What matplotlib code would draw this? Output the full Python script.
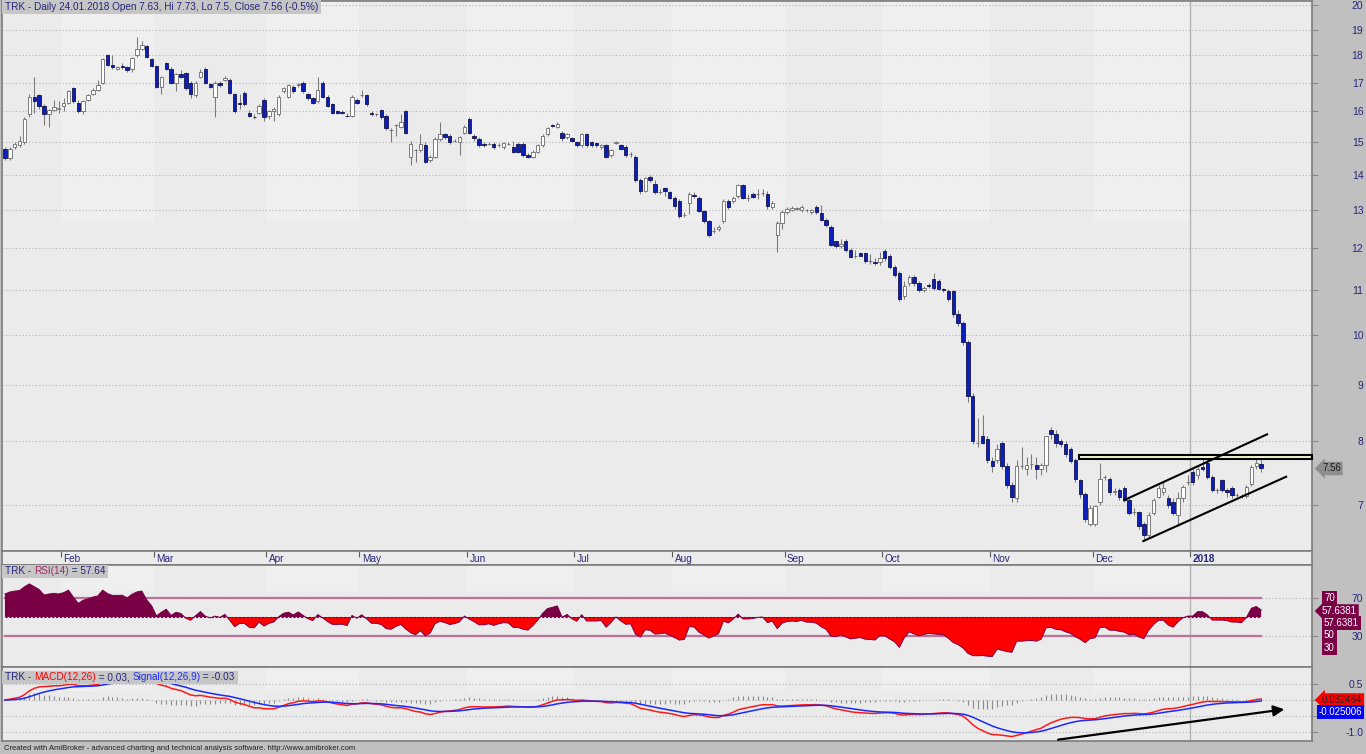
import matplotlib
matplotlib.use('Agg')
import matplotlib.pyplot as plt
from matplotlib.patches import Rectangle
import pandas as pd

# daily bars 13.01.2017 .. 24.01.2018
opens = [
    14.8, 14.5, 14.85, 14.9, 15.0, 15.9, 16.5, 16.55, 16.2, 15.9,
    16.05, 16.1, 16.2, 16.3, 16.8, 16.3, 16.0, 16.4, 16.6, 16.75,
    17.0, 18.0, 17.65, 17.5, 17.62, 17.55, 17.5, 18.0, 18.25, 18.35,
    17.85, 17.6, 16.85, 17.7, 17.5, 17.0, 17.3, 17.35, 17.0, 16.55,
    17.2, 17.5, 16.95, 16.5, 17.0, 17.1, 17.1, 16.6, 16.3, 16.65,
    15.95, 15.82, 15.95, 16.4, 15.85, 16.0, 15.9, 16.7, 16.5, 16.85,
    16.9, 17.0, 16.6, 16.45, 16.35, 17.0, 16.5, 16.25, 16.0, 15.97,
    15.86, 15.85, 16.4, 16.55, 16.55, 15.95, 15.9, 16.05, 15.85, 15.4,
    15.55, 15.5, 16.0, 14.55, 14.75, 14.75, 14.9, 14.45, 14.55, 15.1,
    15.25, 15.2, 15.05, 15.0, 15.3, 15.75, 15.2, 15.1, 14.95, 14.95,
    14.95, 14.92, 14.85, 14.95, 14.85, 14.95, 14.95, 14.6, 14.55, 14.7,
    14.9, 15.25, 15.55, 15.5, 15.3, 15.18, 15.12, 15.0, 14.9, 15.25,
    15.0, 14.98, 14.85, 14.9, 14.6, 14.98, 14.92, 14.85, 14.62, 14.55,
    13.85, 13.55, 13.95, 13.75, 13.52, 13.62, 13.52, 13.35, 13.25, 12.88,
    13.2, 13.42, 13.35, 12.97, 12.7, 12.45, 12.5, 12.7, 13.25, 13.25,
    13.4, 13.7, 13.35, 13.45, 13.45, 13.47, 13.45, 13.1, 12.35, 12.65,
    12.95, 13.0, 13.05, 13.0, 13.0, 12.95, 13.1, 12.92, 12.75, 12.55,
    12.18, 12.05, 12.2, 11.95, 11.8, 11.88, 11.88, 11.68, 11.67, 11.67,
    11.93, 11.8, 11.55, 11.4, 10.85, 11.15, 11.3, 11.15, 11.0, 11.12,
    11.25, 11.2, 11.02, 10.98, 10.98, 10.45, 10.25, 9.85, 8.8, 7.97,
    8.1, 8.05, 7.68, 7.7, 7.98, 7.6, 7.3, 7.1, 7.6, 7.55,
    7.63, 7.62, 7.55, 7.62, 8.2, 8.12, 8.0, 7.95, 7.88, 7.7,
    7.38, 7.17, 6.72, 6.72, 7.05, 7.42, 7.4, 7.2, 7.22, 7.25,
    7.07, 6.9, 6.9, 6.72, 6.57, 6.88, 7.12, 7.2, 7.1, 7.05,
    6.85, 7.1, 7.35, 7.5, 7.45, 7.58, 7.65, 7.43, 7.22, 7.38,
    7.22, 7.25, 7.15, 7.13, 7.13, 7.32, 7.6, 7.63,
]
highs = [
    14.85, 14.85, 15.0, 15.2, 15.8, 16.6, 17.2, 16.6, 16.25, 16.1,
    16.4, 16.35, 16.45, 16.75, 16.85, 16.4, 16.4, 16.6, 16.8, 17.1,
    17.9, 18.05, 18.0, 17.6, 17.7, 17.6, 17.95, 18.7, 18.55, 18.4,
    17.9, 17.65, 17.25, 17.75, 17.55, 17.35, 17.45, 17.4, 17.05, 17.05,
    17.5, 17.55, 17.0, 17.05, 17.05, 17.25, 17.15, 16.65, 16.6, 16.7,
    16.05, 15.9, 16.25, 16.45, 16.05, 16.15, 16.55, 16.85, 16.95, 16.9,
    17.0, 17.05, 16.65, 16.5, 17.2, 17.05, 16.55, 16.3, 16.05, 16.05,
    15.95, 16.55, 16.45, 16.75, 16.6, 16.0, 15.95, 16.1, 15.9, 15.45,
    15.6, 15.9, 16.05, 15.05, 14.8, 15.25, 15.0, 14.6, 15.15, 15.65,
    15.3, 15.25, 15.1, 15.2, 15.55, 15.8, 15.25, 15.15, 15.0, 15.0,
    15.0, 14.97, 15.0, 15.0, 15.05, 15.0, 15.0, 14.65, 14.75, 14.95,
    15.25, 15.5, 15.6, 15.65, 15.35, 15.3, 15.15, 15.05, 15.3, 15.3,
    15.05, 15.0, 14.95, 14.95, 14.8, 15.05, 14.95, 14.9, 14.7, 14.6,
    13.9, 13.95, 14.0, 13.85, 13.6, 13.65, 13.55, 13.4, 13.3, 12.95,
    13.5, 13.5, 13.4, 13.0, 12.75, 12.55, 12.6, 13.3, 13.3, 13.4,
    13.75, 13.75, 13.45, 13.5, 13.6, 13.6, 13.55, 13.25, 12.7, 13.0,
    13.1, 13.12, 13.1, 13.15, 13.05, 13.05, 13.15, 13.15, 12.8, 12.6,
    12.2, 12.25, 12.25, 12.0, 11.95, 11.9, 11.9, 11.85, 11.75, 11.9,
    11.98, 11.85, 11.6, 11.45, 11.2, 11.35, 11.35, 11.2, 11.1, 11.15,
    11.4, 11.25, 11.05, 11.02, 11.0, 10.55, 10.3, 9.9, 8.85, 8.4,
    8.45, 8.1, 7.75, 7.95, 8.0, 7.65, 7.35, 7.7, 7.9, 7.75,
    7.8, 7.75, 7.65, 8.1, 8.25, 8.2, 8.05, 8.0, 7.9, 7.72,
    7.4, 7.2, 7.0, 7.0, 7.65, 7.45, 7.42, 7.25, 7.25, 7.28,
    7.1, 6.95, 6.92, 6.75, 6.9, 7.1, 7.3, 7.35, 7.15, 7.1,
    7.2, 7.3, 7.45, 7.55, 7.6, 7.75, 7.8, 7.45, 7.25, 7.4,
    7.25, 7.28, 7.18, 7.16, 7.3, 7.62, 7.75, 7.73,
]
lows = [
    14.45, 14.45, 14.8, 14.85, 14.95, 15.8, 15.95, 16.1, 15.55, 15.5,
    16.0, 15.95, 16.0, 16.25, 16.3, 15.95, 15.9, 16.35, 16.55, 16.7,
    16.95, 17.6, 17.5, 17.45, 17.5, 17.4, 17.4, 17.95, 18.2, 17.9,
    17.55, 16.8, 16.6, 17.45, 16.95, 16.7, 17.15, 16.75, 16.45, 16.5,
    17.15, 16.95, 16.8, 15.8, 16.85, 17.05, 16.6, 15.95, 16.1, 16.2,
    15.8, 15.75, 15.9, 15.7, 15.75, 15.7, 15.85, 16.65, 16.45, 16.65,
    16.85, 16.65, 16.4, 16.25, 16.3, 16.45, 16.15, 15.9, 15.9, 15.9,
    15.8, 15.8, 16.25, 16.5, 16.2, 15.85, 15.85, 15.75, 15.4, 15.0,
    15.2, 15.45, 15.25, 14.3, 14.4, 14.7, 14.35, 14.4, 14.5, 15.05,
    15.1, 14.95, 15.0, 14.6, 15.25, 15.25, 15.05, 14.85, 14.85, 14.9,
    14.8, 14.85, 14.8, 14.9, 14.65, 14.65, 14.55, 14.5, 14.5, 14.65,
    14.85, 15.2, 15.5, 15.45, 15.05, 15.1, 15.0, 14.85, 14.85, 14.85,
    14.85, 14.85, 14.8, 14.5, 14.55, 14.95, 14.75, 14.55, 14.55, 13.8,
    13.45, 13.5, 13.8, 13.45, 13.45, 13.4, 13.3, 13.05, 12.8, 12.82,
    12.9, 13.35, 12.95, 12.65, 12.3, 12.4, 12.45, 12.65, 13.05, 13.2,
    13.35, 13.3, 13.25, 13.35, 13.3, 13.4, 13.05, 13.05, 11.9, 12.5,
    12.9, 12.98, 13.0, 12.95, 12.95, 12.9, 12.9, 12.7, 12.55, 12.05,
    12.0, 12.0, 11.9, 11.75, 11.75, 11.8, 11.65, 11.62, 11.6, 11.6,
    11.7, 11.5, 11.3, 10.75, 10.8, 11.1, 11.1, 10.95, 10.95, 11.05,
    11.0, 11.0, 10.95, 10.75, 10.4, 10.2, 9.8, 8.7, 7.95, 7.9,
    7.95, 7.65, 7.5, 7.65, 7.55, 7.25, 7.05, 7.05, 7.55, 7.45,
    7.55, 7.4, 7.45, 7.5, 8.05, 7.9, 7.9, 7.75, 7.65, 7.35,
    7.1, 6.75, 6.7, 6.7, 7.0, 7.38, 7.15, 7.15, 7.08, 7.05,
    6.85, 6.85, 6.65, 6.52, 6.55, 6.85, 7.1, 7.15, 6.95, 6.85,
    6.7, 7.05, 7.3, 7.3, 7.4, 7.52, 7.4, 7.2, 7.18, 7.2,
    7.12, 7.1, 7.12, 7.1, 7.1, 7.28, 7.55, 7.5,
]
closes = [
    14.5, 14.8, 14.95, 15.05, 15.75, 16.5, 16.35, 16.2, 15.9, 16.05,
    16.15, 16.12, 16.3, 16.7, 16.35, 16.0, 16.35, 16.55, 16.75, 16.9,
    17.85, 17.65, 17.55, 17.55, 17.58, 17.45, 17.9, 18.25, 18.4, 17.95,
    17.6, 16.85, 17.2, 17.5, 17.0, 17.3, 17.2, 16.8, 16.6, 17.0,
    17.4, 17.0, 16.85, 17.0, 16.9, 17.15, 16.65, 16.0, 16.25, 16.25,
    15.85, 15.8, 16.2, 15.8, 16.0, 16.1, 16.5, 16.8, 16.9, 16.7,
    16.95, 16.7, 16.45, 16.3, 16.75, 16.5, 16.2, 15.95, 15.95, 15.96,
    15.85, 16.5, 16.3, 16.55, 16.25, 15.9, 15.9, 15.8, 15.45, 15.4,
    15.55, 15.65, 15.3, 14.95, 14.75, 14.95, 14.4, 14.55, 15.1, 15.25,
    15.15, 15.0, 15.05, 15.15, 15.5, 15.3, 15.12, 14.9, 14.9, 14.95,
    14.85, 14.92, 14.97, 14.95, 14.7, 14.7, 14.6, 14.55, 14.7, 14.9,
    15.2, 15.45, 15.52, 15.6, 15.12, 15.27, 15.05, 14.92, 15.25, 14.9,
    14.9, 14.9, 14.92, 14.55, 14.75, 15.02, 14.8, 14.6, 14.62, 13.85,
    13.55, 13.9, 13.85, 13.5, 13.52, 13.55, 13.35, 13.12, 12.85, 12.88,
    13.45, 13.4, 12.97, 12.7, 12.35, 12.45, 12.55, 13.25, 13.1, 13.35,
    13.7, 13.35, 13.35, 13.38, 13.45, 13.47, 13.12, 13.2, 12.65, 12.95,
    13.05, 13.07, 13.05, 13.1, 13.0, 13.0, 12.95, 12.75, 12.6, 12.1,
    12.05, 12.12, 11.95, 11.78, 11.8, 11.82, 11.7, 11.68, 11.64, 11.75,
    11.75, 11.55, 11.35, 10.8, 11.1, 11.3, 11.15, 11.0, 11.05, 11.08,
    11.05, 11.02, 11.0, 10.78, 10.45, 10.25, 9.85, 8.8, 8.0, 7.97,
    7.98, 7.7, 7.6, 7.88, 7.6, 7.3, 7.12, 7.6, 7.6, 7.62,
    7.63, 7.55, 7.62, 8.1, 8.12, 7.98, 7.95, 7.8, 7.68, 7.4,
    7.17, 6.8, 6.95, 6.98, 7.4, 7.42, 7.2, 7.2, 7.12, 7.07,
    6.88, 6.9, 6.7, 6.57, 6.85, 7.07, 7.25, 7.25, 7.0, 6.88,
    7.1, 7.27, 7.35, 7.35, 7.55, 7.55, 7.43, 7.22, 7.22, 7.22,
    7.2, 7.15, 7.15, 7.13, 7.27, 7.58, 7.65, 7.56,
]

month_labels = ['Feb', 'Mar', 'Apr', 'May', 'Jun', 'Jul', 'Aug', 'Sep', 'Oct', 'Nov', 'Dec', '2018']
month_starts = [12, 31, 54, 73, 95, 117, 137, 160, 180, 202, 223, 243]
price_ticks = [7, 8, 9, 10, 11, 12, 13, 14, 15, 16, 17, 18, 19, 20]

# drawn studies: (bar index, value)
band_x = [219.8, 267.4]
band_y = [7.705, 7.775]
upper_x, upper_y = [229.0, 258.2], [7.074, 8.121]
lower_x, lower_y = [232.9, 262.1], [6.490, 7.429]
arrow_x, arrow_y = [214.9, 262.3], [-1.25, -0.28]

W, H = 1366, 754
NAVY = '#26267A'
plt.rcParams['font.family'] = ['Liberation Sans', 'DejaVu Sans']


def fx(px):
    return px / W


def fy(py):
    return 1 - py / H


def make_axes(fig, top, bottom):
    ax = fig.add_axes([fx(2), fy(bottom), fx(1310), (bottom - top) / H])
    ax.set_facecolor('#EBEBEB')
    ax.set_xlim(-0.6, 267.4)
    ax.set_xticks([])
    for s in ax.spines.values():
        s.set_color('#7C7C7C')
        s.set_linewidth(1.2)
    return ax


def right_labels(ax):
    ax.yaxis.tick_right()
    ax.tick_params(axis='y', length=4, color='#8A8A8A', labelsize=7.5,
                   labelcolor=NAVY, pad=33)
    for lbl in ax.get_yticklabels():
        lbl.set_horizontalalignment('right')
    ax.grid(axis='y', color='#B4B4B4', linestyle=(0, (1, 2)), linewidth=0.8)


def month_bands(ax, ymin):
    for a, b in zip(month_starts[0::2], month_starts[1::2]):
        ax.axvspan(a - 0.5, b - 0.5, ymin=ymin, ymax=1, color='#EFEFEF', lw=0, zorder=0)
    ax.axvline(242.5, color='#B4B4B4', lw=1, zorder=1)


def text_width(fig, s, fs, r):
    t = fig.text(0, 0, s, fontsize=fs)
    w = t.get_window_extent(renderer=r).width
    t.remove()
    return w


def colored_title(fig, py, parts, fs=7.2):
    r = fig.canvas.get_renderer()
    bar_w = text_width(fig, '|', fs, r)
    full = ''
    for s, col in parts:
        off = text_width(fig, full + '|', fs, r) - bar_w if full else 0
        fig.text(fx(5 + off), fy(py), s, color=col, fontsize=fs, ha='left', va='center', zorder=11)
        full += s
    total = text_width(fig, full + '|', fs, r) - bar_w
    fig.add_artist(Rectangle((fx(2), fy(py + 7)), (total + 6) / W, 13 / H,
                             transform=fig.transFigure, fc='#C6C6C6', ec='none', zorder=10))


def tag(fig, px, py, s, fc, tc, style='square'):
    fig.text(fx(px), fy(py), s, fontsize=7, color=tc, ha='left', va='center', zorder=12,
             bbox=dict(boxstyle=style + ',pad=0.18', fc=fc, ec='none'))


# RSI(14), Wilder smoothing seeded with the average move of the first 14 bars
c = pd.Series(closes)
delta = c.diff().fillna(0)
gains = delta.clip(lower=0).to_numpy()
losses = (-delta.clip(upper=0)).to_numpy()
ag = gains[1:15].mean()
al = losses[1:15].mean()
rsi = []
for i in range(len(closes)):
    if i > 0:
        ag = (ag * 13 + gains[i]) / 14
        al = (al * 13 + losses[i]) / 14
    rsi.append(100 * ag / (ag + al))
rsi = pd.Series(rsi).to_numpy()

macd = c.ewm(span=12, adjust=False).mean() - c.ewm(span=26, adjust=False).mean()
signal = macd.ewm(span=9, adjust=False).mean()
hist = (macd - signal).to_numpy()
macd = macd.to_numpy()
signal = signal.to_numpy()
idx = list(range(len(closes)))
last = idx[-1]

fig = plt.figure(figsize=(W / 100, H / 100), dpi=100, facecolor='#C0C0C0')

# ---- price pane ----
ax_p = make_axes(fig, 1, 551)
ax_p.set_yscale('log')
ax_p.set_ylim(6.356, 20.18)
ax_p.set_yticks(price_ticks, labels=[str(t) for t in price_ticks])
ax_p.yaxis.set_minor_locator(matplotlib.ticker.NullLocator())
right_labels(ax_p)
month_bands(ax_p, 0.6)

for i in idx:
    o, h, l, cl = opens[i], highs[i], lows[i], closes[i]
    down = cl < o
    ax_p.vlines(i, l, h, color='#7A7A7A', lw=0.75, zorder=2)
    body = max(abs(cl - o), 0.004)
    ax_p.bar(i, body, bottom=min(o, cl), width=0.7,
             color='#0C1FB8' if down else 'white',
             edgecolor='#12124A' if down else '#6A6A6A', linewidth=0.6, zorder=3)

ax_p.add_patch(Rectangle((band_x[0], band_y[0]), band_x[1] - band_x[0], band_y[1] - band_y[0],
                         fc='#FBF5D8', ec='black', lw=1.5, zorder=4, clip_on=False))
ax_p.plot(upper_x, upper_y, color='black', lw=1.5, zorder=5)
ax_p.plot(lower_x, lower_y, color='black', lw=1.5, zorder=5)

# ---- date strip ----
ax_d = make_axes(fig, 551, 565)
ax_d.set_ylim(0, 1)
ax_d.set_yticks([])
for pos, lab in zip(month_starts, month_labels):
    ax_d.vlines(pos - 0.5, 0.6, 1, color='#5A5A5A', lw=0.8)
    ax_d.text(pos, 0.42, lab, fontsize=7.2, color=NAVY, ha='left', va='center',
              fontweight='bold' if lab == '2018' else 'normal')

# ---- RSI pane ----
ax_r = make_axes(fig, 565, 667)
ax_r.set_ylim(-2.6, 104.7)
ax_r.set_yticks([30, 70], labels=['30', '70'])
right_labels(ax_r)
month_bands(ax_r, 0.75)
ax_r.plot([0, last], [70, 70], color='#BA7299', lw=1.6, zorder=2)
ax_r.plot([0, last], [30, 30], color='#BA7299', lw=1.6, zorder=2)
ax_r.fill_between(idx, rsi, 50, where=rsi >= 50, interpolate=True, color='#7A0046', lw=0, zorder=3)
ax_r.fill_between(idx, rsi, 50, where=rsi < 50, interpolate=True, color='#FF0000', lw=0, zorder=3)
ax_r.plot(idx, rsi, color='#7A0046', lw=0.7, zorder=4)
ax_r.plot([0, last], [50, 50], color='#7A0046', lw=0.8, ls=(0, (2, 1.5)), zorder=4)

# ---- MACD pane ----
ax_m = make_axes(fig, 667, 741)
ax_m.set_ylim(-1.28, 1.03)
ax_m.set_yticks([-1.0, -0.5, 0, 0.5], labels=['-1.0', '', '', '0.5'])
right_labels(ax_m)
month_bands(ax_m, 0.68)
ax_m.vlines(idx, 0, hist, color='#8C8C8C', lw=0.8, zorder=2)
ax_m.plot(idx, macd, color='#FF1A1A', lw=1.1, zorder=3)
ax_m.plot(idx, signal, color='#1A2AFF', lw=1.1, zorder=3)
ax_m.annotate('', xy=(arrow_x[1], arrow_y[1]), xytext=(arrow_x[0], arrow_y[0]),
              arrowprops=dict(arrowstyle='-|>', color='black', lw=1.6, mutation_scale=16),
              zorder=5)

# ---- titles, value tags, footer ----
colored_title(fig, 6.5, [('TRK - Daily 24.01.2018 Open 7.63, Hi 7.73, Lo 7.5, Close 7.56 (-0.5%)', NAVY)])
colored_title(fig, 571, [('TRK - ', NAVY), ('RSI(14)', '#9A2A62'), (' = 57.64', NAVY)])
colored_title(fig, 677, [('TRK - ', NAVY), ('MACD(12,26)', '#FF0000'), (' = 0.03, ', NAVY),
                         ('Signal(12,26,9)', '#1A2AFF'), (' = -0.03', NAVY)])

tag(fig, 1322, 468.5, '7.56', '#8E8E8E', '#1E1E1E', 'larrow')
tag(fig, 1324, 598, '70', '#7A0046', 'white')
tag(fig, 1322, 611, '57.6381', '#7A0046', 'white', 'larrow')
tag(fig, 1324, 623, '57.6381', '#7A0046', 'white')
tag(fig, 1324, 635, '50', '#7A0046', 'white')
tag(fig, 1324, 648, '30', '#7A0046', 'white')
tag(fig, 1322, 700, '0.032464', '#FF0000', '#1E1E1E', 'larrow')
tag(fig, 1319, 712, '-0.025006', '#0000FF', 'white')

fig.text(fx(4), fy(748), 'Created with AmiBroker - advanced charting and technical analysis software. '
         'http://www.amibroker.com', fontsize=5.5, color='#1E1E1E', ha='left', va='center')

fig.savefig('out.png', dpi=100, facecolor=fig.get_facecolor())
